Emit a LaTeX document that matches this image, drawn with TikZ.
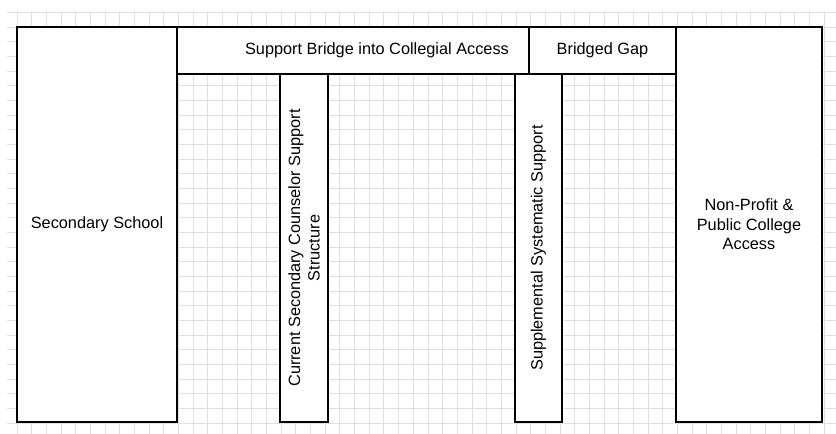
\documentclass[tikz,border=0pt]{standalone}
\usepackage{fontspec}
\setmainfont{Liberation Sans}

\begin{document}
\begin{tikzpicture}
	[x=0.025cm, y=-0.025cm, line width=1pt,
	block/.style={rectangle, draw=black, fill=white, inner sep=0pt, align=center,
		font=\fontsize{11.6pt}{13.8pt}\selectfont},
	lbl/.style={inner sep=0pt, align=center, font=\fontsize{11.6pt}{13.8pt}\selectfont},
	gridline/.style={draw=black!12, line width=0.5pt}]
	\useasboundingbox (0,0) rectangle (836,434);
	\begin{scope}[shift={(17,27)}]
		\draw[gridline, step=0.36675cm] (-10,-15) grid (819,407);
	\end{scope}
	\node[block, minimum width=4cm, minimum height=9.875cm] (school) at (97,224.5) {Secondary School};
	\node[block, minimum width=8.8cm, minimum height=1.175cm] (bridge) at (353,50.5) {};
	\node[lbl] (bridgetext) at ([xshift=0.6cm]bridge.center) {Support Bridge into Collegial Access};
	\node[block, minimum width=3.675cm, minimum height=1.175cm] (gap) at (602.5,50.5) {Bridged Gap};
	\node[block, minimum width=3.65cm, minimum height=9.875cm] (college) at (749,224.5) {Non-Profit \&\\Public College\\Access};
	\node[block, rotate=90, minimum width=8.7cm, minimum height=1.2cm] (counselor) at (304,248) {Current Secondary Counselor Support\\Structure};
	\node[block, rotate=90, minimum width=8.7cm, minimum height=1.175cm] (supplement) at (538.5,248) {Supplemental Systematic Support};
\end{tikzpicture}
\end{document}
